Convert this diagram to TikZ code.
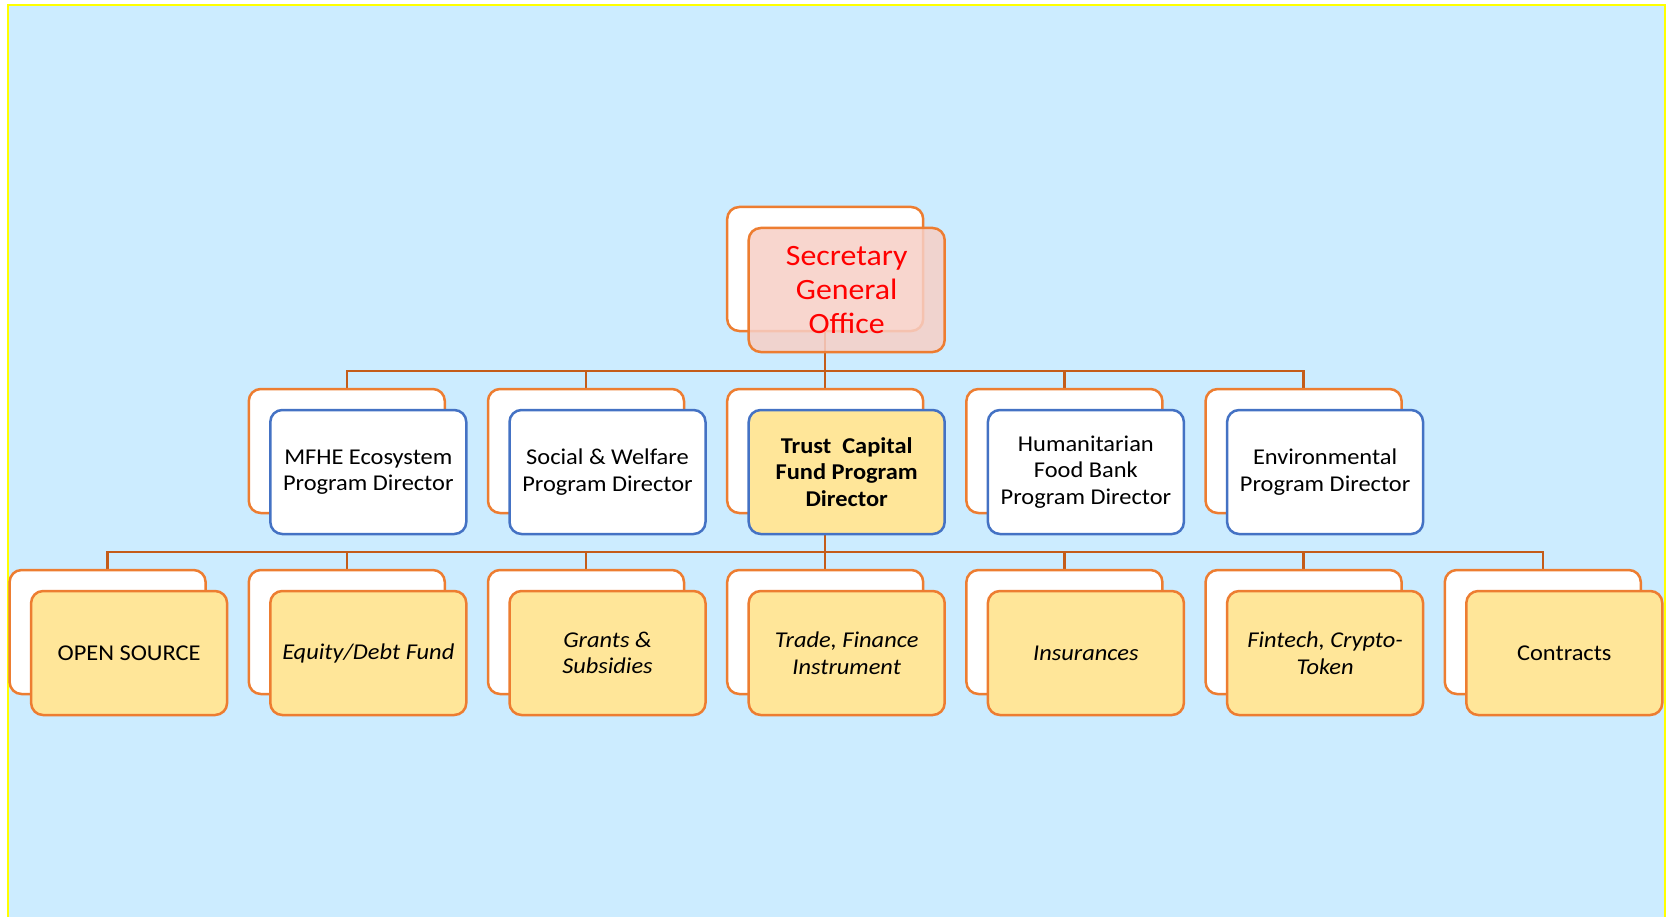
\documentclass[tikz,border=0pt]{standalone}
\usepackage{fontspec}
\setmainfont{Carlito}[FakeStretch=1.08]
\usetikzlibrary{calc}
\pgfdeclarelayer{background}
\pgfsetlayers{background,main}
\definecolor{bgblue}{RGB}{204,236,255}
\definecolor{frameyellow}{RGB}{255,255,0}
\definecolor{boxorange}{RGB}{237,125,49}
\definecolor{connorange}{RGB}{196,92,25}
\definecolor{boxblue}{RGB}{68,114,196}
\definecolor{boxyellow}{RGB}{255,230,153}
\definecolor{sgpink}{RGB}{247,207,198}
\begin{document}
\begin{tikzpicture}[x=1pt,y=-1pt,
  cardbase/.style={rounded corners=12pt, minimum width=196pt, minimum height=124pt,
     line width=2.5pt, inner sep=0pt, align=center,
     font=\fontsize{22.6}{26.6}\selectfont},
  backcard/.style={cardbase, draw=boxorange, fill=white},
  bluecard/.style={cardbase, draw=boxblue, fill=white},
  goldcard/.style={cardbase, draw=boxorange, fill=boxyellow},
  trustcard/.style={cardbase, draw=boxblue, fill=boxyellow, font=\fontsize{22.6}{26.6}\selectfont\bfseries},
  sgcard/.style={cardbase, draw=boxorange, fill=sgpink, fill opacity=0.85, text opacity=1,
     text=red, font=\fontsize{29.5}{34}\selectfont},
  conn/.style={draw=connorange, line width=2.3pt}
]
\useasboundingbox (0,0) rectangle (1667,917);
\begin{pgfonlayer}{background}
  \fill[white] (0,0) rectangle (1667,917);
  \fill[bgblue] (8,5) rectangle (1665,925);
  \draw[frameyellow, line width=2.2pt] (8,925) -- (8,5) -- (1665,5) -- (1665,925);
\end{pgfonlayer}

% Secretary General Office
\node[backcard] (sgb) at (825.2,269) {};
\node[sgcard] (sgf) at (846.7,290) {Secretary\\General\\Office};

% Program directors (row 2)
\node[backcard] (d1b) at (346.8,451) {};
\node[bluecard] (d1f) at (368.3,472) {MFHE Ecosystem\\Program Director};
\node[backcard] (d2b) at (586.0,451) {};
\node[bluecard] (d2f) at (607.5,472) {Social \& Welfare\\Program Director};
\node[backcard] (d3b) at (825.2,451) {};
\node[trustcard] (d3f) at (846.7,472) {Trust\ \ Capital\\Fund Program\\Director};
\node[backcard] (d4b) at (1064.4,451) {};
\node[bluecard] (d4f) at (1085.9,472) {Humanitarian\\Food Bank\\Program Director};
\node[backcard] (d5b) at (1303.6,451) {};
\node[bluecard] (d5f) at (1325.1,472) {Environmental\\Program Director};

% Funds (row 3)
\node[backcard] (f0b) at (107.6,632) {};
\node[goldcard] (f0f) at (129.1,653) {OPEN SOURCE};
\node[backcard] (f1b) at (346.8,632) {};
\node[goldcard] (f1f) at (368.3,653) {\itshape Equity/Debt Fund};
\node[backcard] (f2b) at (586.0,632) {};
\node[goldcard] (f2f) at (607.5,653) {\itshape Grants \&\\\itshape Subsidies};
\node[backcard] (f3b) at (825.2,632) {};
\node[goldcard] (f3f) at (846.7,653) {\itshape Trade, Finance\\\itshape Instrument};
\node[backcard] (f4b) at (1064.4,632) {};
\node[goldcard] (f4f) at (1085.9,653) {\itshape Insurances};
\node[backcard] (f5b) at (1303.6,632) {};
\node[goldcard] (f5f) at (1325.1,653) {\itshape Fintech, Crypto-\\\itshape Token};
\node[backcard] (f6b) at (1542.8,632) {};
\node[goldcard] (f6f) at (1564.3,653) {Contracts};

\coordinate (busA) at (825.2,371);
\coordinate (busB) at (825.2,552);

\begin{pgfonlayer}{background}
  \draw[conn] (sgb.south) -- (busA);
  \draw[conn, line cap=rect] (d1b.north |- busA) -- (d5b.north |- busA);
  \foreach \n in {d1b,d2b,d3b,d4b,d5b}
    \draw[conn] (\n.north |- busA) -- (\n.north);
  \draw[conn] (d3b.south) -- (busB);
  \draw[conn, line cap=rect] (f0b.north |- busB) -- (f6b.north |- busB);
  \foreach \n in {f0b,f1b,f2b,f3b,f4b,f5b,f6b}
    \draw[conn] (\n.north |- busB) -- (\n.north);
\end{pgfonlayer}
\end{tikzpicture}
\end{document}
